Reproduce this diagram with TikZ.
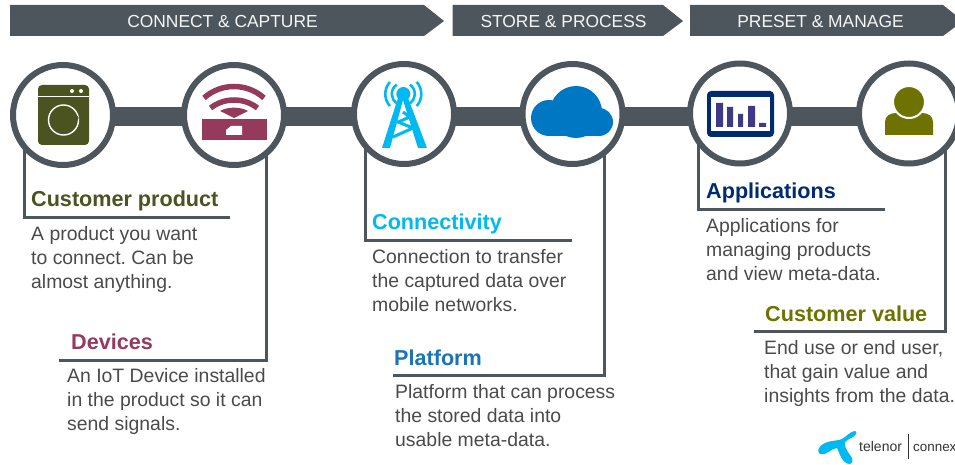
\documentclass[tikz,border=0pt]{standalone}
\usepackage{fontspec}
\usetikzlibrary{backgrounds}
\setmainfont{Liberation Sans}
\frenchspacing
\definecolor{slate}{HTML}{4D565D}
\definecolor{bodygray}{HTML}{4A4A4A}
\definecolor{olivedark}{HTML}{4B5320}
\definecolor{wine}{HTML}{963A5C}
\definecolor{sky}{HTML}{00B9F2}
\definecolor{cloudblue}{HTML}{0077C2}
\definecolor{navy}{HTML}{002B70}
\definecolor{barviolet}{HTML}{3F3A85}
\definecolor{moss}{HTML}{6E7200}
\definecolor{titleblue}{HTML}{1A75B8}
\tikzset{
  hub/.style={circle,draw=slate,fill=white,line width=6pt,minimum size=100pt,inner sep=0pt,outer sep=0pt},
  spine/.style={draw=slate,line width=19pt},
  lead/.style={draw=slate,line width=3pt,line join=miter},
  banner/.style={fill=slate},
  bannertext/.style={text=white!94!slate,font=\fontsize{17.4}{20}\selectfont,inner sep=0pt},
  heading/.style={anchor=base west,inner sep=0pt,font=\fontsize{21.6}{25}\selectfont\bfseries},
  copytext/.style={anchor=base west,inner sep=0pt,align=left,text=bodygray,font=\fontsize{19.4}{23.7}\selectfont},
}
\begin{document}
\begin{tikzpicture}[x=1pt,y=-1pt]
\useasboundingbox (0,0) rectangle (955,465);
\clip (0,0) rectangle (955,465);
% banners
\path[banner] (10,5) -- (424,5) -- (444,21) -- (424,36) -- (10,36) -- cycle;
\path[banner] (452.6,5) -- (663,5) -- (683,21) -- (663,36) -- (452.6,36) -- cycle;
\path[banner] (690,5) -- (943,5) -- (963,21) -- (943,36) -- (690,36) -- cycle;
\node[bannertext] (b1) at (222.5,21.5) {CONNECT \& CAPTURE};
\node[bannertext] (b2) at (563.5,21.5) {STORE \& PROCESS};
\node[bannertext] (b3) at (820.5,21.5) {PRESET \& MANAGE};
% hubs
\node[hub] (c1) at (63,115) {};
\node[hub] (c2) at (234,115) {};
\node[hub] (c3) at (404,114) {};
\node[hub] (c4) at (572.5,114) {};
\node[hub] (c5) at (740,113.5) {};
\node[hub] (c6) at (909,113.5) {};
\coordinate (sp) at (0,116.5);
\begin{scope}[on background layer]
\draw[spine] (c1 |- sp) -- (c2 |- sp);
\draw[spine] (c2 |- sp) -- (c3 |- sp);
\draw[spine] (c3 |- sp) -- (c4 |- sp);
\draw[spine] (c4 |- sp) -- (c5 |- sp);
\draw[spine] (c5 |- sp) -- (c6 |- sp);
\end{scope}
% lead lines
\coordinate (k1) at (24,217);   \coordinate (e1) at (230,217);
\coordinate (k2) at (266,360);  \coordinate (e2) at (59,360);
\coordinate (k3) at (365,240);  \coordinate (e3) at (572,240);
\coordinate (k4) at (604,375);  \coordinate (e4) at (393,375);
\coordinate (k5) at (698,209);  \coordinate (e5) at (885,209);
\coordinate (k6) at (945,331);  \coordinate (e6) at (754,331);
\draw[lead] (k1 |- c1.222.6) -- (k1) -- (e1);
\draw[lead] (k2 |- c2.-52.9) -- (k2) -- (e2);
\draw[lead] (k3 |- c3.222.6) -- (k3) -- (e3);
\draw[lead] (k4 |- c4.-53.5) -- (k4) -- (e4);
\draw[lead] (k5 |- c5.217.6) -- (k5) -- (e5);
\draw[lead] (k6 |- c6.-47.2) -- (k6) -- (e6);
% washer
\fill[olivedark,rounded corners=4pt] (38,85) rectangle (89,145);
\draw[white,line width=1pt] (38,97) -- (89,97);
\fill[white] (72,91) circle[radius=2pt] (81,91) circle[radius=2pt];
\draw[white,line width=1.4pt] (63.5,120) circle[radius=15pt];
\fill[olivedark] (76,118) circle[radius=2.6pt];
% router
\fill[wine] (202,119) rectangle (267,140);
\fill[white] (226,135) -- (226,130) -- (231,126) -- (242,126) -- (242,135) -- cycle;
\begin{scope}[wine,line width=5.5pt]
\draw (234,131.5) ++(48.2:45pt) arc[start angle=48.2,end angle=131.8,radius=45pt];
\draw (234,138.5) ++(52.4:38.5pt) arc[start angle=52.4,end angle=127.6,radius=38.5pt];
\end{scope}
\fill[wine] (220,111) .. controls (228,106.5) and (240,106.5) .. (248,111) -- (234,118) -- cycle;
% tower
\fill[sky] (398,98) -- (403,100) -- (390,148) -- (382,148) -- cycle;
\fill[sky] (408,98) -- (403,100) -- (418,148) -- (427,148) -- cycle;
\draw[sky,line width=3pt] (403,112) -- (410,117) -- (398,122) -- (413,128) -- (393,137);
\fill[sky] (403.3,94) circle[radius=7pt];
\begin{scope}[sky,line width=2.6pt]
\draw (403.3,94) ++(125:11.5pt) arc[start angle=125,end angle=235,radius=11.5pt];
\draw (403.3,94) ++(138:18pt) arc[start angle=138,end angle=222,radius=18pt];
\draw (403.3,94) ++(55:11.5pt) arc[start angle=55,end angle=-55,radius=11.5pt];
\draw (403.3,94) ++(42:18pt) arc[start angle=42,end angle=-42,radius=18pt];
\end{scope}
% cloud
\fill[cloudblue] (576,112) circle[radius=26pt] (549,118) circle[radius=18pt] (599,122) circle[radius=14pt] (549,115) rectangle (599,136);
% dashboard
\fill[navy,rounded corners=4pt] (707,91) rectangle (774,137);
\fill[white] (711,97) rectangle (770,131);
\fill[barviolet] (716,103) rectangle (723,127) (727,107) rectangle (733,127) (738,114) rectangle (743,127) (748,106) rectangle (755,127) (759,123) rectangle (766,127);
% person
\fill[moss] (885,135) -- (885,122) .. controls (885,116) and (890,113) .. (896,113) -- (922,113) .. controls (928,113) and (933,116) .. (933,122) -- (933,135) -- cycle;
\fill[moss,draw=white,line width=2pt] (909,102) circle[radius=16pt];
% texts
\node[heading,text=olivedark] (t1) at (31,207) {Customer product};
\node[copytext] (d1) at (31,288) {A product you want\\to connect. Can be\\almost anything.};
\node[heading,text=wine] (t2) at (71,349) {Devices};
\node[copytext] (d2) at (67,430) {An IoT Device installed\\in the product so it can\\send signals.};
\node[heading,text=sky] (t3) at (372,229) {Connectivity};
\node[copytext] (d3) at (372,311) {Connection to transfer\\the captured data over\\mobile networks.};
\node[heading,text=titleblue] (t4) at (394,365) {Platform};
\node[copytext] (d4) at (395,446) {Platform that can process\\the stored data into\\usable meta-data.};
\node[heading,text=navy] (t5) at (706,198) {Applications};
\node[copytext] (d5) at (706,280) {Applications for\\managing products\\and view meta-data.};
\node[heading,text=moss] (t6) at (765,321) {Customer value};
\node[copytext] (d6) at (764,402) {End use or end user,\\that gain value and\\insights from the data.};
% logo
\fill[sky] (820,454) .. controls (817,452) and (817,447) .. (825,443) .. controls (832,440) and (838,441) .. (842,439) .. controls (847,436) and (851,431) .. (855,431) .. controls (858,432) and (856,435) .. (853,437) .. controls (849,439) and (845,441) .. (845,443) .. controls (844,448) and (849,453) .. (852,458) .. controls (853,462) and (852,464) .. (850,464) .. controls (846,464) and (843,461) .. (841,457) .. controls (839,453) and (838,450) .. (837,448) .. controls (832,448) and (826,456) .. (820,454) -- cycle;
\node[anchor=base west,inner sep=0pt,text=black!80,font=\fontsize{14}{15}\selectfont] (l1) at (859,451) {telenor};
\node[anchor=base west,inner sep=0pt,text=black!80,font=\fontsize{13.4}{15}\selectfont] (l2) at (913,451) {connex};
\draw[black!80,line width=.8pt] (908.5,434) -- (908.5,459);
\end{tikzpicture}
\end{document}
